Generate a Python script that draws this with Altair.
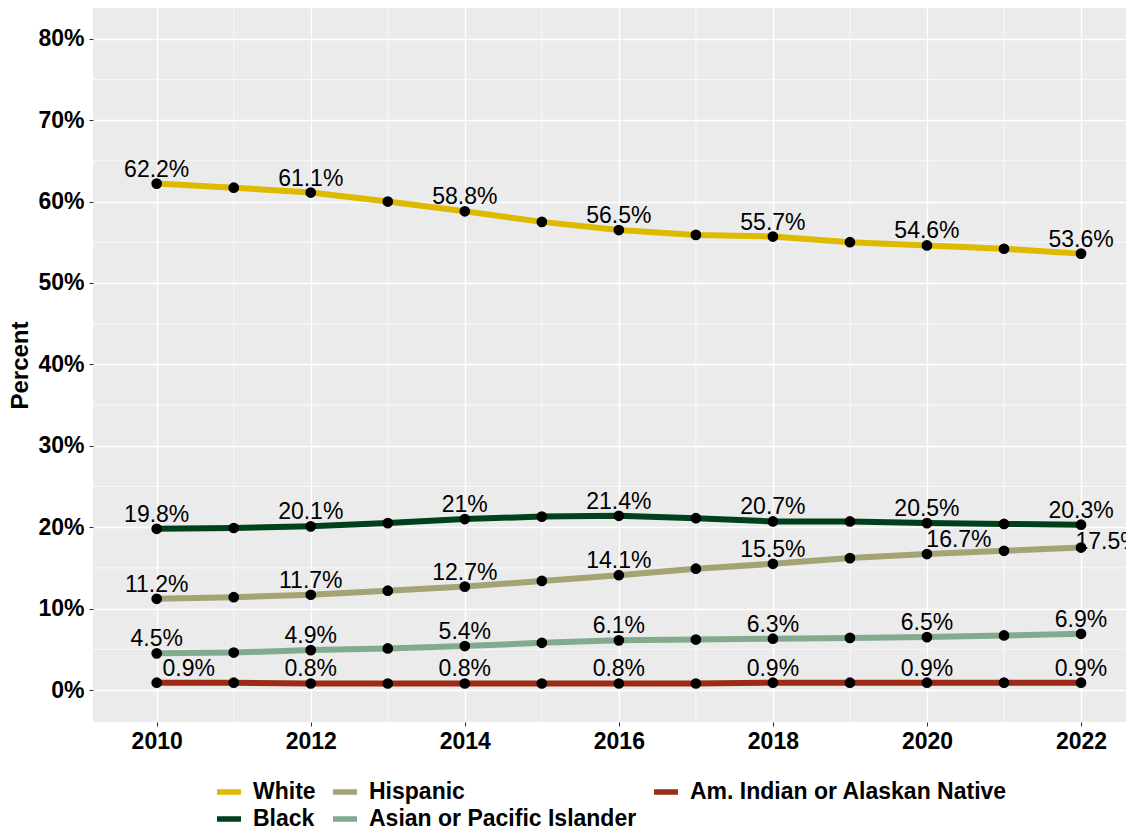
import altair as alt
import pandas as pd

years = list(range(2010, 2023))
groups = ["White", "Black", "Hispanic", "Asian or Pacific Islander", "Am. Indian or Alaskan Native"]
white = [62.2, 61.7, 61.1, 60.0, 58.8, 57.5, 56.5, 55.9, 55.7, 55.0, 54.6, 54.2, 53.6]
black = [19.8, 19.9, 20.1, 20.5, 21.0, 21.3, 21.4, 21.1, 20.7, 20.7, 20.5, 20.4, 20.3]
hispanic = [11.2, 11.4, 11.7, 12.2, 12.7, 13.4, 14.1, 14.9, 15.5, 16.2, 16.7, 17.1, 17.5]
asian = [4.5, 4.6, 4.9, 5.1, 5.4, 5.8, 6.1, 6.2, 6.3, 6.4, 6.5, 6.7, 6.9]
aian = [0.9, 0.9, 0.8, 0.8, 0.8, 0.8, 0.8, 0.8, 0.9, 0.9, 0.9, 0.9, 0.9]

x_ticks = [2010, 2012, 2014, 2016, 2018, 2020, 2022]
y_ticks = [0, 10, 20, 30, 40, 50, 60, 70, 80]
minor_years = [2011, 2013, 2015, 2017, 2019, 2021]
minor_pcts = [5, 15, 25, 35, 45, 55, 65, 75]

legend_order = ["White", "Hispanic", "Am. Indian or Alaskan Native", "Black", "Asian or Pacific Islander"]
palette = {
    "White": "#DDB900",
    "Black": "#00401A",
    "Hispanic": "#A3A374",
    "Asian or Pacific Islander": "#82AB8E",
    "Am. Indian or Alaskan Native": "#9B2B14",
}

rows = []
for g, vals in zip(groups, [white, black, hispanic, asian, aian]):
    for yr, v in zip(years, vals):
        rows.append({"year": yr, "pct": v, "group": g, "label": f"{v:g}%"})
df = pd.DataFrame(rows)

FONT = "Liberation Sans"
xscale = alt.Scale(domain=[2009.173, 2022.584], nice=False, zero=False)
yscale = alt.Scale(domain=[-3.93, 83.77], nice=False, zero=False)

x_axis = alt.Axis(values=x_ticks, format="d", title=None, grid=True, gridColor="white",
                  gridWidth=1.4, gridOpacity=1, domain=False, tickColor="#333333", tickSize=4,
                  tickWidth=1.1, labelFont=FONT, labelFontSize=23, labelFontWeight="bold",
                  labelColor="black", labelPadding=4, labelFlush=False)
y_axis = alt.Axis(values=y_ticks, labelExpr="datum.value + '%'", title="Percent", grid=True,
                  gridColor="white", gridWidth=1.4, gridOpacity=1, domain=False,
                  tickColor="#333333", tickSize=4, tickWidth=1.1, labelFont=FONT,
                  labelFontSize=23, labelFontWeight="bold", labelColor="black", labelPadding=5,
                  titleFont=FONT, titleFontSize=24, titleFontWeight="bold", titleColor="black",
                  titlePadding=5)

x_enc = alt.X("year:Q", scale=xscale, axis=x_axis)
y_enc = alt.Y("pct:Q", scale=yscale, axis=y_axis)

minor_v = alt.Chart(pd.DataFrame({"year": minor_years})).mark_rule(
    color="white", strokeWidth=0.7).encode(x=x_enc)
minor_h = alt.Chart(pd.DataFrame({"pct": minor_pcts})).mark_rule(
    color="white", strokeWidth=0.7).encode(y=y_enc)

base = alt.Chart(df)
lines = base.mark_line(strokeWidth=6).encode(
    x=x_enc,
    y=y_enc,
    color=alt.Color(
        "group:N",
        scale=alt.Scale(domain=legend_order, range=[palette[g] for g in legend_order]),
        legend=alt.Legend(
            title=None, orient="none", legendX=121, legendY=769, direction="horizontal",
            columns=3, symbolType="M-1,0H1", symbolSize=576, symbolStrokeWidth=5.5,
            labelFont=FONT, labelFontSize=23, labelFontWeight="bold", labelColor="black",
            labelOffset=9, columnPadding=6, rowPadding=0, labelLimit=500, padding=0,
        ),
    ),
)
points = base.mark_circle(size=115, color="black", opacity=1).encode(x=x_enc, y=y_enc)

txt = dict(baseline="alphabetic", align="center", fontSize=23, font=FONT, color="black")
labels_main = base.transform_filter(
    "datum.year % 2 == 0 && !((datum.group == 'Am. Indian or Alaskan Native' && datum.year == 2010)"
    " || (datum.group == 'Hispanic' && datum.year >= 2020))"
).mark_text(dy=-7, **txt).encode(x=x_enc, y=y_enc, text="label:N")
labels_shift = base.transform_filter(
    "(datum.group == 'Am. Indian or Alaskan Native' && datum.year == 2010)"
    " || (datum.group == 'Hispanic' && datum.year == 2020)"
).mark_text(dy=-7, dx=32, **txt).encode(x=x_enc, y=y_enc, text="label:N")
labels_last = base.transform_filter(
    "datum.group == 'Hispanic' && datum.year == 2022"
).mark_text(dy=1, dx=27, **txt).encode(x=x_enc, y=y_enc, text="label:N")

chart = alt.layer(minor_v, minor_h, lines, points, labels_main, labels_shift, labels_last).properties(
    width=1033, height=714,
    padding={"left": 85, "top": 0, "right": 0, "bottom": 109},
    autosize=alt.AutoSizeParams(type="none"),
    background="white",
).configure_view(fill="#EBEBEB", stroke=None)

chart.save("out.html", embed_options={"renderer": "svg", "actions": False})
